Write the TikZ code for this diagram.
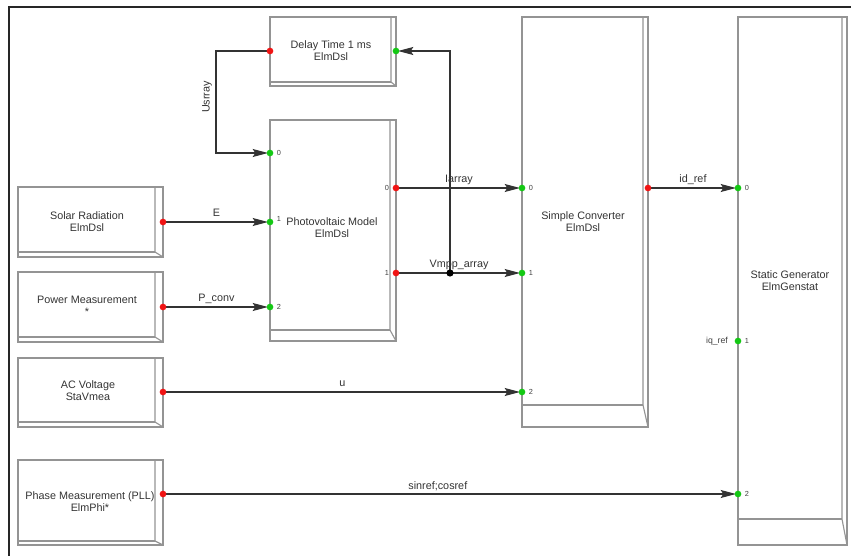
\documentclass[tikz,border=0pt]{standalone}
\usepackage{fontspec}
\setmainfont{Liberation Sans}
\usetikzlibrary{arrows.meta,calc}
\tikzset{
  blk/.style={draw=black!42, line width=0.85pt},
  conn/.style={draw=black!80, line width=0.9pt},
  arr/.style={conn, -{Stealth[length=11.5pt,width=6pt,inset=2pt]}, shorten >=1.5pt},
  btext/.style={align=center, font=\fontsize{8.1}{9}\selectfont, text=black!80, inner sep=0},
  lbl/.style={anchor=base, yshift=3.75pt, inner sep=0, font=\fontsize{8.1}{9}\selectfont, text=black!80},
  pnum/.style={font=\fontsize{5.5}{6}\selectfont, text=black!75, inner sep=0},
  redport/.style={fill={rgb,255:red,240;green,20;blue,20}},
  grnport/.style={fill={rgb,255:red,20;green,200;blue,20}},
}
\newcommand\blockshape[6]{%
  \draw[blk] (#1,#2) rectangle (#4,#6);
  \draw[blk] (#3,#2) -- (#3,#5) -- (#4,#6);
  \draw[blk] (#1,#5) -- (#3,#5);
}
\begin{document}
\begin{tikzpicture}[x=0.75pt,y=-0.75pt]
\useasboundingbox (0,0) rectangle (851,556);
% frame
\draw[line width=1.5pt, black!85] (9,556) -- (9,7) -- (851,7);

% blocks
\blockshape{270}{17}{391}{396}{82}{86}
\blockshape{270}{120}{390}{396}{330}{341}
\blockshape{522}{17}{643}{648}{405}{427}
\blockshape{738}{17}{842}{847}{519}{545}
\blockshape{18}{187}{155}{163}{252}{257}
\blockshape{18}{272}{155}{163}{337}{342}
\blockshape{18}{358}{155}{163}{422}{427}
\blockshape{18}{460}{155}{163}{541}{545}

\node[btext] (delay) at (331,51) {Delay Time 1 ms\\ElmDsl};
\node[btext] (pv) at (332,228) {Photovoltaic Model\\ElmDsl};
\node[btext] (conv) at (583,222) {Simple Converter\\ElmDsl};
\node[btext] (sg) at (790,281) {Static Generator\\ElmGenstat};
\node[btext] (solar) at (87,222) {Solar Radiation\\ElmDsl};
\node[btext] (power) at (87,306) {Power Measurement\\*};
\node[btext] (ac) at (88,391) {AC Voltage\\StaVmea};
\node[btext] (phase) at (90,502) {Phase Measurement (PLL)\\ElmPhi*};

% ports
\coordinate (dout) at (270,51);
\coordinate (din) at (396,51);
\coordinate (pv0) at (270,153);
\coordinate (pv1) at (270,222);
\coordinate (pv2) at (270,307);
\coordinate (pvo0) at (396,188);
\coordinate (pvo1) at (396,273);
\coordinate (cv0) at (522,188);
\coordinate (cv1) at (522,273);
\coordinate (cv2) at (522,392);
\coordinate (cvo) at (648,188);
\coordinate (sg0) at (738,188);
\coordinate (sg1) at (738,341);
\coordinate (sg2) at (738,494);
\coordinate (solo) at (163,222);
\coordinate (powo) at (163,307);
\coordinate (aco) at (163,392);
\coordinate (pho) at (163,494);
\coordinate (ubend) at (216,100);
\coordinate (jn) at (450,273);

% connectors
\draw[arr] (dout) -| (ubend) |- (pv0);
\node[lbl, rotate=90, anchor=center, yshift=0pt] (usr) at (207,102) {Usrray};
\draw[arr] (solo) -- node[lbl] (lE) {E} (pv1);
\draw[arr] (powo) -- node[lbl] (lP) {P\_conv} (pv2);
\draw[arr] (pvo0) -- node[lbl] (lI) {Iarray} (cv0);
\draw[arr] (pvo1) -- node[lbl] (lV) {Vmpp\_array} (cv1);
\draw[arr] (jn) |- (din);
\draw[arr] (aco) -- node[lbl] (lu) {u} (cv2);
\draw[arr] (cvo) -- node[lbl] (lid) {id\_ref} (sg0);
\draw[arr] (pho) -- node[lbl, pos=0.478] (lsc) {sinref;cosref} (sg2);
\fill[black] (jn) circle (2.7pt);

% port dots
\foreach \p in {dout,pvo0,pvo1,cvo,solo,powo,aco,pho}
  \fill[redport] (\p) circle (2.5pt);
\foreach \p in {din,pv0,pv1,pv2,cv0,cv1,cv2,sg0,sg1,sg2}
  \fill[grnport] (\p) circle (2.5pt);

% port numbers
\node[pnum] (npv0) at ($(pv0)+(9,0)$) {0};
\node[pnum] (npv1) at ($(pv1)+(9,-3)$) {1};
\node[pnum] (npv2) at ($(pv2)+(9,0)$) {2};
\node[pnum] (npvo0) at ($(pvo0)+(-9,0)$) {0};
\node[pnum] (npvo1) at ($(pvo1)+(-9,0)$) {1};
\node[pnum] (ncv0) at ($(cv0)+(9,0)$) {0};
\node[pnum] (ncv1) at ($(cv1)+(9,0)$) {1};
\node[pnum] (ncv2) at ($(cv2)+(9,0)$) {2};
\node[pnum] (nsg0) at ($(sg0)+(9,0)$) {0};
\node[pnum] (nsg1) at ($(sg1)+(9,0)$) {1};
\node[pnum] (nsg2) at ($(sg2)+(9,0)$) {2};
\node[pnum, font=\fontsize{6.5}{7}\selectfont] (liq) at ($(sg1)+(-21,0)$) {iq\_ref};
\end{tikzpicture}
\end{document}
